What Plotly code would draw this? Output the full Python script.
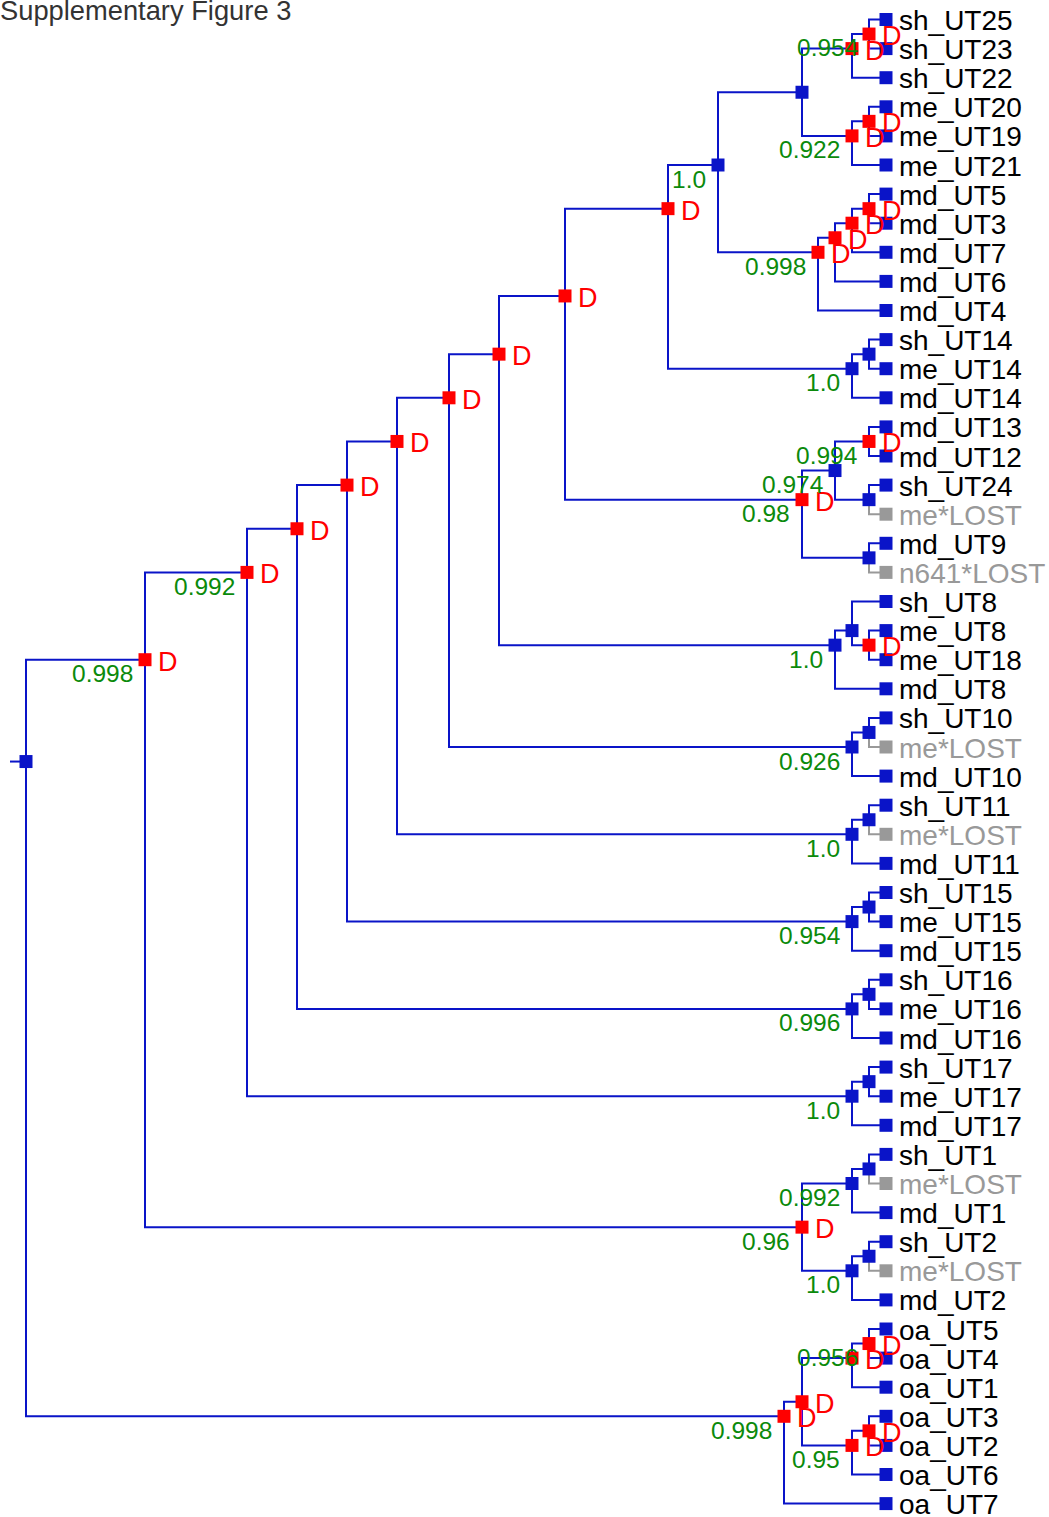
import plotly.graph_objects as go

# ---------------- data ----------------
title_text = "Supplementary Figure 3"

leaf_names = [
    "sh_UT25", "sh_UT23", "sh_UT22", "me_UT20", "me_UT19", "me_UT21",
    "md_UT5", "md_UT3", "md_UT7", "md_UT6", "md_UT4",
    "sh_UT14", "me_UT14", "md_UT14",
    "md_UT13", "md_UT12", "sh_UT24", "me*LOST", "md_UT9", "n641*LOST",
    "sh_UT8", "me_UT8", "me_UT18", "md_UT8",
    "sh_UT10", "me*LOST", "md_UT10",
    "sh_UT11", "me*LOST", "md_UT11",
    "sh_UT15", "me_UT15", "md_UT15",
    "sh_UT16", "me_UT16", "md_UT16",
    "sh_UT17", "me_UT17", "md_UT17",
    "sh_UT1", "me*LOST", "md_UT1",
    "sh_UT2", "me*LOST", "md_UT2",
    "oa_UT5", "oa_UT4", "oa_UT1", "oa_UT3", "oa_UT2", "oa_UT6", "oa_UT7",
]
leaf_parent = [
    "SH2", "SH2", "SH", "ME2", "ME2", "ME",
    "MD4", "MD4", "MD3", "MD2", "MD",
    "U14a", "U14a", "U14",
    "M1213", "M1213", "S24", "S24", "Z", "Z",
    "U8a", "U8b", "U8b", "U8",
    "U10a", "U10a", "U10",
    "U11a", "U11a", "U11",
    "U15a", "U15a", "U15",
    "U16a", "U16a", "U16",
    "U17a", "U17a", "U17",
    "U1a", "U1a", "U1",
    "U2a", "U2a", "U2",
    "OA5", "OA5", "OA3", "OA6", "OA6", "OA4", "OA",
]
leaf_dist = [
    17, 17, 34, 17, 17, 34,
    17, 17, 34, 51, 68,
    17, 17, 34,
    17, 17, 17, 17, 17, 17,
    34, 17, 17, 51,
    17, 17, 34,
    17, 17, 34,
    17, 17, 34,
    17, 17, 34,
    17, 17, 34,
    17, 17, 34,
    17, 17, 34,
    17, 17, 34, 17, 17, 34, 102,
]

node_names = ["R", "A1", "A2", "A3", "A4", "A5", "A6", "A7", "A8", "A9", "A10", "A11",
              "SH", "SH2", "ME", "ME2", "MD", "MD2", "MD3", "MD4", "U14", "U14a",
              "X", "Y", "M1213", "S24", "Z", "U8", "U8a", "U8b", "U10", "U10a",
              "U11", "U11a", "U15", "U15a", "U16", "U16a", "U17", "U17a",
              "D12", "U1", "U1a", "U2", "U2a", "OA", "OA2", "OA3", "OA5", "OA4", "OA6"]
node_parent = [None, "R", "A1", "A2", "A3", "A4", "A5", "A6", "A7", "A8", "A9", "A10",
               "A11", "SH", "A11", "ME", "A10", "MD", "MD2", "MD3", "A9", "U14",
               "A8", "X", "Y", "Y", "X", "A7", "U8", "U8a", "A6", "U10",
               "A5", "U11", "A4", "U15", "A3", "U16", "A2", "U17",
               "A1", "D12", "U1", "D12", "U2", "R", "OA", "OA2", "OA3", "OA2", "OA4"]
node_dist = [16, 119, 102, 50, 50, 50, 52, 50, 66, 103, 50, 84,
             50, 17, 50, 17, 100, 17, 17, 17, 184, 17,
             237, 33, 34, 34, 67, 336, 17, 17, 403, 17,
             455, 17, 505, 17, 555, 17, 605, 17,
             657, 50, 17, 50, 17, 758, 18, 50, 17, 50, 17]
node_support = [None, 0.998, 0.992, None, None, None, None, None, None, None, 1.0, None,
                0.954, None, 0.922, None, 0.998, None, None, None, 1.0, None,
                0.98, 0.974, 0.994, None, None, 1.0, None, None, 0.926, None,
                1.0, None, 0.954, None, 0.996, None, 1.0, None,
                0.96, 0.992, None, 1.0, None, 0.998, None, 0.956, None, 0.95, None]
node_dup = [False, True, True, True, True, True, True, True, True, True, False, False,
            True, True, True, True, True, True, True, True, False, False,
            True, False, True, False, False, False, False, True, False, False,
            False, False, False, False, False, False, False, False,
            True, False, False, False, False, True, True, True, True, True, True]

# ---------------- styles ----------------
BLUE = "#0a14c8"
GRAY = "#999999"
RED = "#ff0000"
GREEN = "#0b8a0b"
FONT = "Liberation Sans, Arial, Helvetica, sans-serif"
LEAF_FS, DUP_FS, SUP_FS, TITLE_FS = 28, 27, 24.5, 27.3
on_branch_support = {"SH", "OA3"}   # support faces drawn across the short branch

# ---------------- layout computation ----------------
parent_of = {}
dist_of = {}
for n, p, d in zip(node_names, node_parent, node_dist):
    parent_of[n] = p
    dist_of[n] = d
leaf_ids = [f"leaf{i}" for i in range(len(leaf_names))]
for lid, p, d in zip(leaf_ids, leaf_parent, leaf_dist):
    parent_of[lid] = p
    dist_of[lid] = d

xpos = {}
def get_x(n):
    if n in xpos:
        return xpos[n]
    p = parent_of[n]
    xpos[n] = 0 if p is None else get_x(p) + dist_of[n]
    return xpos[n]
for n in list(parent_of):
    get_x(n)

# leaf spans -> node vertical position is the middle of its leaf span
span = {}
for i, lid in enumerate(leaf_ids):
    span[lid] = (i, i)
    p = parent_of[lid]
    while p is not None:
        lo, hi = span.get(p, (i, i))
        span[p] = (min(lo, i), max(hi, i))
        p = parent_of[p]
ypos = {n: (span[n][0] + span[n][1]) / 2 for n in span}

lost = {lid: ("LOST" in nm) for lid, nm in zip(leaf_ids, leaf_names)}

blue_x, blue_y, gray_x, gray_y = [], [], [], []
for n in parent_of:
    p = parent_of[n]
    if p is None:
        blue_x += [xpos[n] - dist_of[n], xpos[n], None]
        blue_y += [ypos[n], ypos[n], None]
        continue
    tx, ty = (gray_x, gray_y) if lost.get(n, False) else (blue_x, blue_y)
    tx += [xpos[p], xpos[p], xpos[n], None]
    ty += [ypos[p], ypos[n], ypos[n], None]

fig = go.Figure()
fig.add_trace(go.Scatter(x=blue_x, y=blue_y, mode="lines",
                         line=dict(color=BLUE, width=2), hoverinfo="skip"))
fig.add_trace(go.Scatter(x=gray_x, y=gray_y, mode="lines",
                         line=dict(color=GRAY, width=2), hoverinfo="skip"))

mk_x, mk_y, mk_c = [], [], []
for n, dup in zip(node_names, node_dup):
    mk_x.append(xpos[n]); mk_y.append(ypos[n]); mk_c.append(RED if dup else BLUE)
for lid in leaf_ids:
    mk_x.append(xpos[lid]); mk_y.append(ypos[lid]); mk_c.append(GRAY if lost[lid] else BLUE)
fig.add_trace(go.Scatter(x=mk_x, y=mk_y, mode="markers",
                         marker=dict(symbol="square", size=13, color=mk_c, line=dict(width=0)),
                         hoverinfo="skip"))

ann = []
for lid, nm in zip(leaf_ids, leaf_names):
    ann.append(dict(x=xpos[lid], y=ypos[lid], text=nm, showarrow=False,
                    xanchor="left", yanchor="middle", xshift=11, yshift=-1,
                    font=dict(family=FONT, size=LEAF_FS, color=GRAY if lost[lid] else "#000000")))
for n, dup in zip(node_names, node_dup):
    if dup:
        ann.append(dict(x=xpos[n], y=ypos[n], text="D", showarrow=False,
                        xanchor="left", yanchor="middle", xshift=11, yshift=-2,
                        font=dict(family=FONT, size=DUP_FS, color=RED)))
for n, s in zip(node_names, node_support):
    if s is None:
        continue
    if n in on_branch_support:
        ann.append(dict(x=xpos[parent_of[n]], y=ypos[n], text=str(s), showarrow=False,
                        xanchor="left", yanchor="middle", xshift=-7, yshift=1,
                        font=dict(family=FONT, size=SUP_FS, color=GREEN)))
    else:
        ann.append(dict(x=xpos[n], y=ypos[n], text=str(s), showarrow=False,
                        xanchor="right", yanchor="middle", xshift=-10, yshift=-14,
                        font=dict(family=FONT, size=SUP_FS, color=GREEN)))
ann.append(dict(x=0, y=1, xref="paper", yref="paper", text=title_text, showarrow=False,
                xanchor="left", yanchor="middle", xshift=-2, yshift=-10,
                font=dict(family=FONT, size=TITLE_FS, color="#333333")))

W, H = 1049, 1517
LEAF0, LEAFSTEP, ROOTPX = 19.5, 29.1, 26
fig.update_layout(
    width=W, height=H, margin=dict(l=0, r=0, t=0, b=0, pad=0),
    paper_bgcolor="white", plot_bgcolor="white", showlegend=False,
    annotations=ann,
    xaxis=dict(range=[-ROOTPX, W - ROOTPX], visible=False, fixedrange=True),
    yaxis=dict(range=[(H - LEAF0) / LEAFSTEP, -LEAF0 / LEAFSTEP], visible=False, fixedrange=True),
)
fig.write_html("out.html", config={"displayModeBar": False},
               post_script="document.body.style.margin='0';")
